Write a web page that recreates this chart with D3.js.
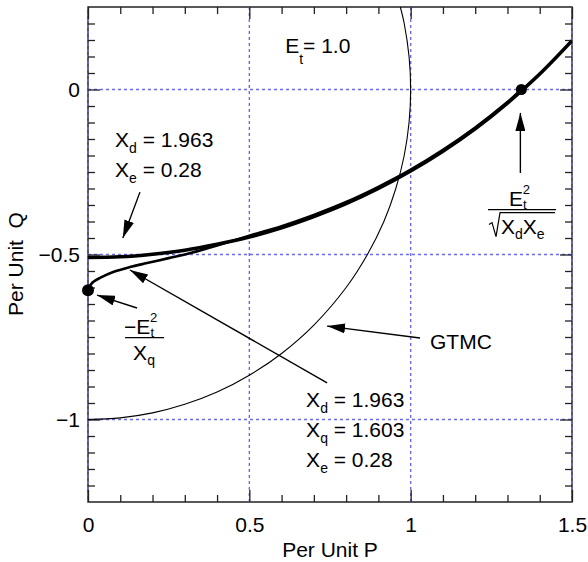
<!DOCTYPE html>
<html><head><meta charset="utf-8">
<script src="https://cdn.jsdelivr.net/npm/d3@7"></script>
<style>
body{margin:0;background:#fff}
svg{display:block}
text{font-family:"Liberation Sans",Arial,Helvetica,sans-serif;fill:#000}
</style>
</head><body>
<svg id="chart" width="588" height="562"></svg>
<script>
// ---- data (per unit) ----
// Round-rotor steady-state stability limit (Xd=1.963, Xe=0.28)
const roundP = [0, 0.1, 0.2, 0.3, 0.4, 0.5, 0.6, 0.7, 0.8, 0.9, 1.0, 1.1, 1.2, 1.3, 1.4, 1.5];
const roundQ = [-0.509, -0.507, -0.499, -0.487, -0.469, -0.447, -0.419, -0.385, -0.346, -0.300, -0.247, -0.187, -0.119, -0.041, 0.047, 0.148];
// Salient-pole limit (Xd=1.963, Xq=1.603, Xe=0.28)
const salP = [0, 0.005, 0.015, 0.037, 0.078, 0.13, 0.183, 0.25, 0.3, 0.35, 0.4, 0.5, 0.6, 0.7, 0.8, 0.9, 1.0, 1.1, 1.2, 1.3, 1.343];
const salQ = [-0.608, -0.596, -0.584, -0.571, -0.553, -0.538, -0.526, -0.511, -0.500, -0.487, -0.473, -0.443, -0.414, -0.380, -0.341, -0.295, -0.243, -0.183, -0.115, -0.038, 0];
// GTMC (unit circle)
const gtmcP = [0, 0.1, 0.2, 0.3, 0.4, 0.5, 0.6, 0.7, 0.8, 0.866, 0.917, 0.954, 0.980, 0.995, 1.0, 0.995, 0.980, 0.968];
const gtmcQ = [-1, -0.995, -0.980, -0.954, -0.917, -0.866, -0.8, -0.714, -0.6, -0.5, -0.4, -0.3, -0.2, -0.1, 0, 0.1, 0.2, 0.25];
// marked points
const dotP = [1.343, 0];
const dotQ = [0, -0.608];
// axes
const xMajor = [0, 0.5, 1, 1.5];
const xLabels = ["0", "0.5", "1", "1.5"];
const yMajor = [0, -0.5, -1];
const yLabels = ["0", "\u22120.5", "\u22121"];
const xMinor = [0.1,0.2,0.3,0.4,0.6,0.7,0.8,0.9,1.1,1.2,1.3,1.4];
const yMinor = [0.2,0.15,0.1,0.05,-0.05,-0.1,-0.15,-0.2,-0.25,-0.3,-0.35,-0.4,-0.45,-0.55,-0.6,-0.65,-0.7,-0.75,-0.8,-0.85,-0.9,-0.95,-1.05,-1.1,-1.15,-1.2];
const gridX = [0, 0.5, 1, 1.5];
const gridY = [0, -0.5, -1];
// arrows: [tailP, tailQ, tipP, tipQ]
const arrows = [
  [0.161, -0.311, 0.108, -0.450],
  [0.152, -0.662, 0.028, -0.623],
  [0.741, -0.889, 0.130, -0.547],
  [1.029, -0.753, 0.741, -0.717],
  [1.340, -0.253, 1.340, -0.071]
];

// ---- layout ----
const W = 588, H = 562, FS = 21;
const m = {left: 88, right: 16, top: 7, bottom: 60};
const svg = d3.select("#chart");
const x = d3.scaleLinear().domain([0, 1.5]).range([m.left, W - m.right]);
const y = d3.scaleLinear().domain([-1.25, 0.25]).range([H - m.bottom, m.top]);
const iw = W - m.left - m.right, ih = H - m.top - m.bottom;

// frame
svg.append("rect").attr("x", m.left).attr("y", m.top).attr("width", iw).attr("height", ih)
  .attr("fill", "none").attr("stroke", "#222").attr("stroke-width", 1.5);

// grid
const gridColor = "#6a6af0";
svg.append("g").selectAll("line").data(gridX).join("line")
  .attr("x1", d => x(d)).attr("x2", d => x(d)).attr("y1", m.top).attr("y2", H - m.bottom)
  .attr("stroke", gridColor).attr("stroke-width", 1.4).attr("stroke-dasharray", "3,3");
svg.append("g").selectAll("line").data(gridY).join("line")
  .attr("y1", d => y(d)).attr("y2", d => y(d)).attr("x1", m.left).attr("x2", W - m.right)
  .attr("stroke", gridColor).attr("stroke-width", 1.4).attr("stroke-dasharray", "3,3");

// ticks via d3 axes
function axisStyle(g){ g.select(".domain").remove(); g.selectAll(".tick line").attr("stroke","#222").attr("stroke-width",1.3); g.selectAll("text").attr("font-size",FS).attr("font-family",'"Liberation Sans",Arial,sans-serif').attr("fill","#000"); }
svg.append("g").attr("transform",`translate(0,${H-m.bottom})`)
  .call(d3.axisBottom(x).tickValues(xMinor).tickSize(-7).tickFormat("")).call(axisStyle);
svg.append("g").attr("transform",`translate(0,${H-m.bottom})`)
  .call(d3.axisBottom(x).tickValues(xMajor).tickSize(-12).tickSizeOuter(0).tickPadding(15).tickFormat((d,i)=>xLabels[i])).call(axisStyle);
svg.append("g").attr("transform",`translate(0,${m.top})`)
  .call(d3.axisTop(x).tickValues(xMinor).tickSize(-7).tickFormat("")).call(axisStyle);
svg.append("g").attr("transform",`translate(0,${m.top})`)
  .call(d3.axisTop(x).tickValues(xMajor).tickSize(-12).tickFormat("")).call(axisStyle);
svg.append("g").attr("transform",`translate(${m.left},0)`)
  .call(d3.axisLeft(y).tickValues(yMinor).tickSize(-7).tickFormat("")).call(axisStyle);
svg.append("g").attr("transform",`translate(${m.left},0)`)
  .call(d3.axisLeft(y).tickValues(yMajor).tickSize(-12).tickPadding(8).tickFormat((d,i)=>yLabels[i])).call(axisStyle);
svg.append("g").attr("transform",`translate(${W-m.right},0)`)
  .call(d3.axisRight(y).tickValues(yMinor).tickSize(-7).tickFormat("")).call(axisStyle);
svg.append("g").attr("transform",`translate(${W-m.right},0)`)
  .call(d3.axisRight(y).tickValues(yMajor).tickSize(-12).tickFormat("")).call(axisStyle);

// axis titles
svg.append("text").attr("x", (m.left + W - m.right)/2).attr("y", 557).attr("text-anchor","middle")
  .attr("font-size",FS).text("Per Unit P");
svg.append("text").attr("transform","translate(23,264) rotate(-90)").attr("text-anchor","middle")
  .attr("font-size",FS).attr("xml:space","preserve").text("Per Unit  Q");

// curves
const clip = svg.append("clipPath").attr("id","clip").append("rect")
  .attr("x", m.left).attr("y", m.top).attr("width", iw).attr("height", ih);
const line = d3.line().x(d => x(d[0])).y(d => y(d[1])).curve(d3.curveCatmullRom.alpha(0.5));
const plot = svg.append("g").attr("clip-path","url(#clip)");
plot.append("path").attr("d", line(gtmcP.map((p,i)=>[p,gtmcQ[i]])))
  .attr("fill","none").attr("stroke","#000").attr("stroke-width",1.1);
plot.append("path").attr("d", line(salP.map((p,i)=>[p,salQ[i]])))
  .attr("fill","none").attr("stroke","#000").attr("stroke-width",2.6);
plot.append("path").attr("d", line(roundP.map((p,i)=>[p,roundQ[i]])))
  .attr("fill","none").attr("stroke","#000").attr("stroke-width",3.6);
svg.append("g").selectAll("circle").data(dotP).join("circle")
  .attr("cx",(d)=>x(d)).attr("cy",(d,i)=>y(dotQ[i])).attr("r",(d,i)=> i===0?5.5:6).attr("fill","#000");

// arrows
const defs = svg.append("defs");
defs.append("marker").attr("id","ah").attr("viewBox","0 0 18 10").attr("refX",18).attr("refY",5)
  .attr("markerWidth",18).attr("markerHeight",10).attr("markerUnits","userSpaceOnUse").attr("orient","auto")
  .append("path").attr("d","M0,0 L18,5 L0,10 Z").attr("fill","#000");
svg.append("g").selectAll("line").data(arrows).join("line")
  .attr("x1",d=>x(d[0])).attr("y1",d=>y(d[1])).attr("x2",d=>x(d[2])).attr("y2",d=>y(d[3]))
  .attr("stroke","#000").attr("stroke-width",1.4).attr("marker-end","url(#ah)");

// rich text helper
function rich(px, py, parts, anchor){
  const t = svg.append("text").attr("x",px).attr("y",py).attr("font-size",FS).attr("text-anchor",anchor||"start");
  let shift = 0;
  parts.forEach(p => {
    const target = p.sub ? (p.sh || 6) : (p.sup ? -(p.sh || 9) : 0);
    const ts = t.append("tspan").text(p.t).attr("dy", target - shift);
    if (p.dx) ts.attr("dx", p.dx);
    if (p.sub || p.sup) ts.attr("font-size", p.fs || 14);
    shift = target;
  });
  return t;
}
// annotation anchors in data units
rich(x(0.611), y(0.111), [{t:"E"},{t:"t",sub:true,sh:11},{t:"= 1.0"}]);
rich(x(0.084), y(-0.174), [{t:"X"},{t:"d",sub:true},{t:" = 1.963"}]);
rich(x(0.084), y(-0.265), [{t:"X"},{t:"e",sub:true},{t:" = 0.28"}]);
rich(x(0.676), y(-0.962), [{t:"X"},{t:"d",sub:true},{t:" = 1.963"}]);
rich(x(0.676), y(-1.053), [{t:"X"},{t:"q",sub:true},{t:" = 1.603"}]);
rich(x(0.676), y(-1.144), [{t:"X"},{t:"e",sub:true},{t:" = 0.28"}]);
rich(x(1.060), y(-0.786), [{t:"GTMC"}]);

// right fraction E_t^2 / sqrt(Xd Xe)
{
  const cx = x(1.342), cy = y(-0.364);
  rich(cx - 12, cy - 4, [{t:"E"},{t:"t",sub:true,sh:3,fs:13},{t:"2",sup:true,sh:12,fs:13,dx:-4}]);
  svg.append("line").attr("x1",cx-33).attr("x2",cx+35).attr("y1",cy).attr("y2",cy).attr("stroke","#000").attr("stroke-width",1.2);
  svg.append("path").attr("d",`M${cx-32},${cy+15} L${cx-29},${cy+13} L${cx-25},${cy+27} L${cx-21},${cy+3} L${cx+34},${cy+3}`)
    .attr("fill","none").attr("stroke","#000").attr("stroke-width",1.2);
  rich(cx-20, cy+24, [{t:"X"},{t:"d",sub:true,sh:5},{t:"X"},{t:"e",sub:true,sh:5}]);
}
// left fraction -E_t^2 / Xq
{
  const cx = x(0.177), cy = y(-0.752);
  rich(cx - 21, cy - 4, [{t:"\u2212E"},{t:"t",sub:true,sh:3,fs:13},{t:"2",sup:true,sh:12,fs:13,dx:-4}]);
  svg.append("line").attr("x1",cx-20).attr("x2",cx+19).attr("y1",cy).attr("y2",cy).attr("stroke","#000").attr("stroke-width",1.2);
  rich(cx - 12, cy + 22, [{t:"X"},{t:"q",sub:true,sh:5}]);
}
</script>
</body></html>
